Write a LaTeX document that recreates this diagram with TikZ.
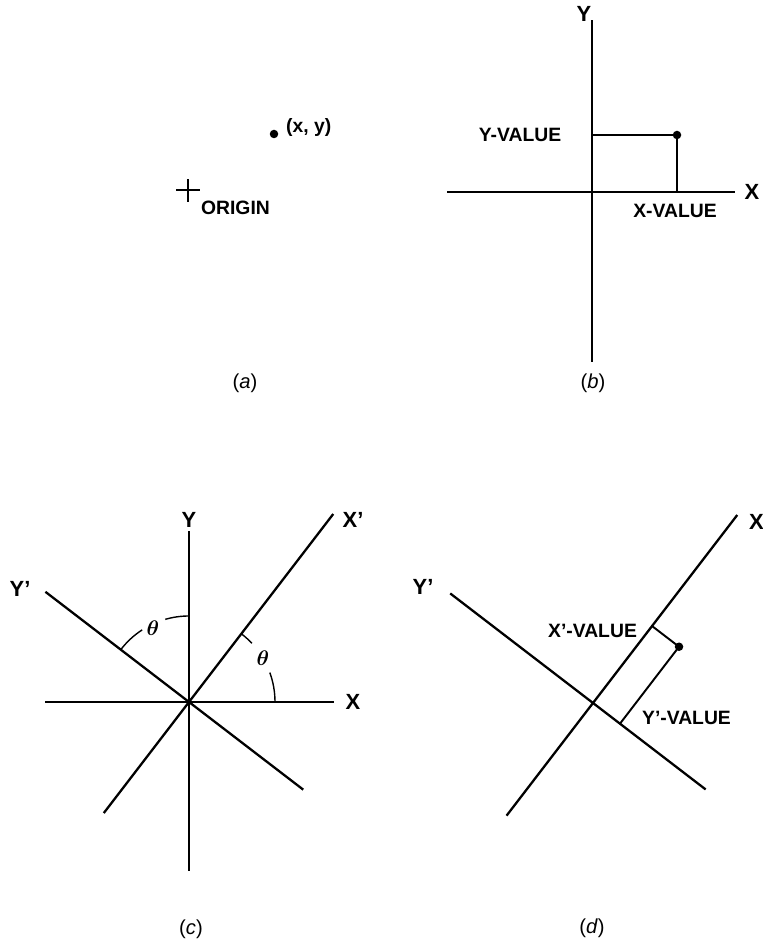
\documentclass[tikz,border=0pt]{standalone}
\usepackage{fontspec}
\setmainfont{Liberation Sans}
\usepackage{amsmath}
\usetikzlibrary{calc}

\begin{document}
\begin{tikzpicture}[
    x=0.02cm, y=0.02cm,
    axis/.style={line width=1.3pt},
    proj/.style={line width=1.1pt},
    anglearc/.style={line width=0.8pt},
    axlabel/.style={font=\fontsize{12.5}{14}\selectfont\bfseries, inner sep=1pt},
    vallabel/.style={font=\fontsize{11}{13}\selectfont\bfseries, inner sep=1pt},
    caption/.style={font=\fontsize{11.5}{13}\selectfont},
    dot/.style={circle, fill, inner sep=0pt, minimum size=0.17cm}
]
\useasboundingbox (0,0) rectangle (762,943);

% (a) origin and a point
\coordinate (orga) at (188,753);
\draw[axis] ($(orga)+(-12,0)$) -- ($(orga)+(12,0)$);
\draw[axis] ($(orga)+(0,-12)$) -- ($(orga)+(0,11)$);
\node[vallabel, anchor=west] (origin) at (199,735) {ORIGIN};
\node[dot] (pa) at (274,809) {};
\node[vallabel, anchor=west] (pxy) at (284,815) {(x, y)};
\node[caption] (capa) at (245,560) {(\textit{a})};

% (b) cartesian axes
\coordinate (ybtop) at (592,923);
\coordinate (ybbot) at (592,581);
\coordinate (xbl) at (447,751);
\coordinate (xbr) at (735,751);
\draw[axis] (ybbot) -- (ybtop);
\draw[axis] (xbl) -- (xbr);
\node[axlabel] (yb) at (584,929) {Y};
\node[axlabel] (xb) at (752,751) {X};

% point and its values
\node[dot] (pb) at (677,808) {};
\coordinate (pby) at (592,808);
\coordinate (pbx) at (677,751);
\draw[proj] (pby) -- (pb.center);
\draw[proj] (pb.center) -- (pbx);
\node[vallabel] (yval) at (520,808) {Y-VALUE};
\node[vallabel] (xval) at (675,732) {X-VALUE};
\node[caption] (capb) at (593,560) {(\textit{b})};

% (c) rotated axes
\coordinate (oc) at (189,241);
\coordinate (xcl) at (45,241);
\coordinate (xcr) at (334,241);
\coordinate (yctop) at (189,412);
\coordinate (ycbot) at (189,72);
\coordinate (xpctop) at ($(oc)+(52.5:237)$);
\coordinate (xpcbot) at ($(oc)+(232.5:140)$);
\coordinate (ypctop) at ($(oc)+(142.5:181)$);
\coordinate (ypcbot) at ($(oc)+(322.5:144)$);
\draw[axis] (xcl) -- (xcr);
\draw[axis] (ycbot) -- (yctop);
\draw[axis] (xpcbot) -- (xpctop);
\draw[axis] (ypctop) -- (ypcbot);
\node[axlabel] (xc) at (353,241) {X};
\node[axlabel] (yc) at (189,423) {Y};
\node[axlabel] (xpc) at (353,423) {X'};
\node[axlabel] (ypc) at (20,354) {Y'};

% angles
\draw[anglearc] ($(oc)+(0:86)$) arc[start angle=0, end angle=20, radius=1.72cm];
\draw[anglearc] ($(oc)+(43:86)$) arc[start angle=43, end angle=52.5, radius=1.72cm];
\draw[anglearc] ($(oc)+(90:86)$) arc[start angle=90, end angle=106, radius=1.72cm];
\draw[anglearc] ($(oc)+(123:86)$) arc[start angle=123, end angle=142.5, radius=1.72cm];
\node[font=\large] (thx) at (263,285) {$\boldsymbol{\theta}$};
\node[font=\large] (thy) at (153,315) {$\boldsymbol{\theta}$};
\node[caption] (capc) at (191,14) {(\textit{c})};

% (d) point in rotated axes
\coordinate (od) at (593,240);
\coordinate (xpdtop) at ($(od)+(52.5:237)$);
\coordinate (xpdbot) at ($(od)+(232.5:142)$);
\coordinate (ypdtop) at ($(od)+(142.5:180)$);
\coordinate (ypdbot) at ($(od)+(322.5:142)$);
\draw[axis] (xpdbot) -- (xpdtop);
\draw[axis] (ypdtop) -- (ypdbot);
\node[axlabel, anchor=west] (xd) at (747,421) {X};
\node[axlabel] (ypd) at (423,356) {Y'};

\coordinate (fx) at ($(od)+(52.5:97)$);
\coordinate (fy) at ($(od)+(322.5:34)$);
\node[dot] (pd) at ($(fx)+(322.5:34)$) {};
\draw[proj] (fx) -- (pd.center);
\draw[proj] (pd.center) -- (fy);
\node[vallabel, anchor=east] (xpval) at (639,312) {X'-VALUE};
\node[vallabel, anchor=west] (ypval) at (640,225) {Y'-VALUE};
\node[caption] (capd) at (592,15) {(\textit{d})};

\end{tikzpicture}
\end{document}
